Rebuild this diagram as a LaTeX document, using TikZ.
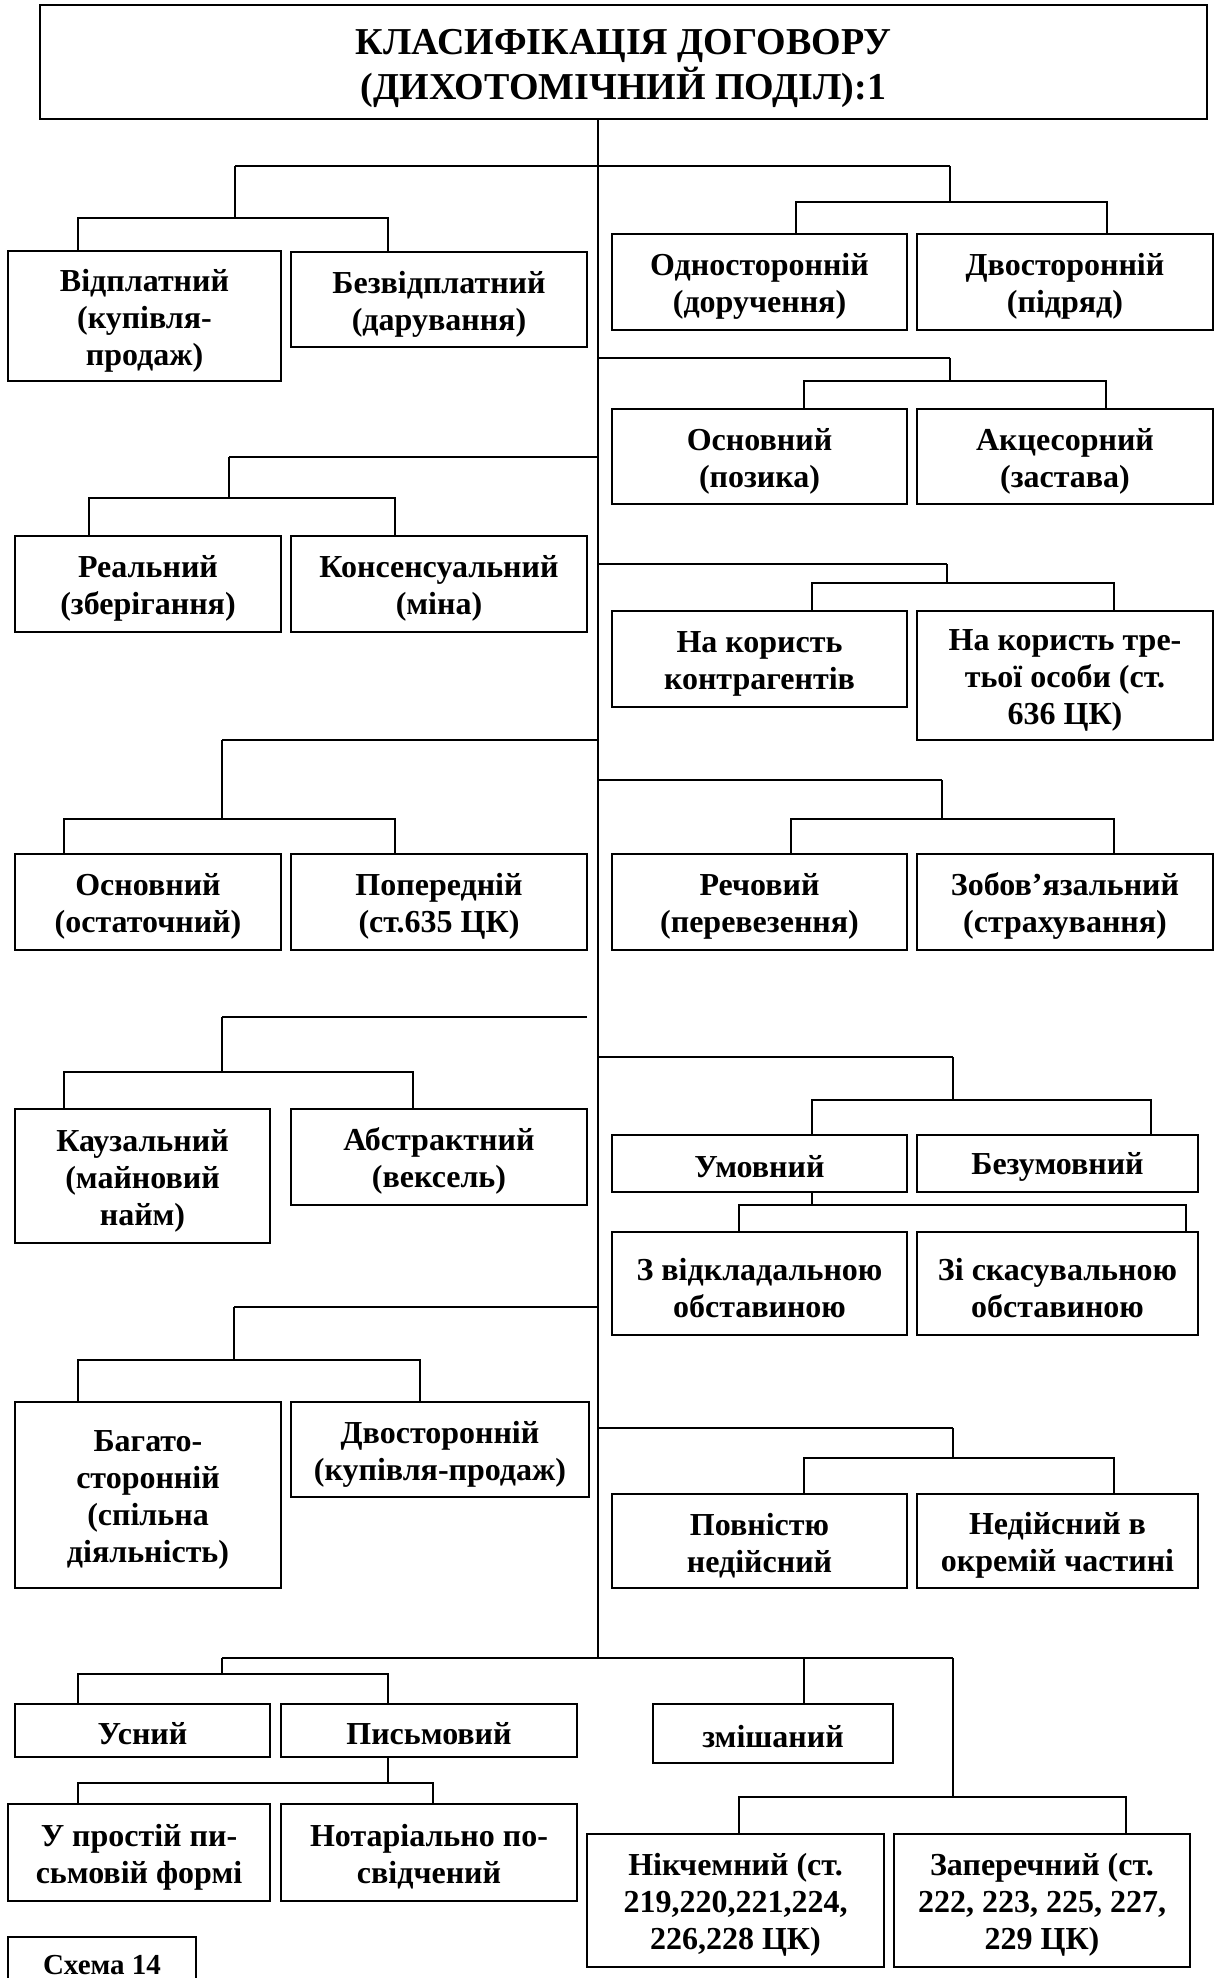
\documentclass[tikz,border=0pt]{standalone}
\usepackage{fontspec}
\setmainfont{Liberation Serif}
\usetikzlibrary{calc}
\tikzset{
  box/.style={draw, line width=1.4pt, inner sep=0pt, align=center,
    font=\fontsize{32}{37}\selectfont\bfseries},
  titlebox/.style={box, font=\fontsize{38}{45}\selectfont\bfseries},
  conn/.style={line width=1.3pt},
}
% multi-line box (first line padded so text sits a little lower, as in the original)
\newcommand\bx[7][box]{\node[#1,minimum width={(#5)-(#3)},minimum height={(#6)-(#4)}] (#2) at ({((#3)+(#5))/2},{((#4)+(#6))/2}) {\rule{0pt}{31pt}#7};}
% single-line box
\newcommand\bxone[6]{\node[box,minimum width={(#4)-(#2)},minimum height={(#5)-(#3)}] (#1) at ({((#2)+(#4))/2},{((#3)+(#5))/2}) {\rule{0pt}{28pt}#6};}
% fork: #1 parent coord, #2 bar y, #3 left x, #4 right x, #5 left node, #6 right node
\newcommand\fork[6]{%
  \coordinate (#1-l) at (#3,#2);
  \coordinate (#1-r) at (#4,#2);
  \draw[conn] (#1) -- (#1 |- #1-l);
  \draw[conn] (#1-l |- #5.north) -- (#1-l) -- (#1-r) -- (#1-r |- #6.north);}
\begin{document}
\begin{tikzpicture}[x=1pt,y=-1pt]
\useasboundingbox[fill=white] (0,0) rectangle (1215,1978);

% title
\node[titlebox,minimum width=1167,minimum height=114] (title) at (623.5,62) {\rule{0pt}{38pt}КЛАСИФІКАЦІЯ ДОГОВОРУ\\(ДИХОТОМІЧНИЙ ПОДІЛ):1};

% boxes
\bx{vidpl}{8}{251}{281}{381}{Відплатний\\(купівля-\\продаж)}
\bx{bezvid}{291}{252}{587}{347}{Безвідплатний\\(дарування)}
\bx{odnos}{612}{234}{907}{330}{Односторонній\\(доручення)}
\bx{dvos}{917}{234}{1213}{330}{Двосторонній\\(підряд)}

\bx{osn}{612}{409}{907}{504}{Основний\\(позика)}
\bx{akc}{917}{409}{1213}{504}{Акцесорний\\(застава)}
\bx{real}{15}{536}{281}{632}{Реальний\\(зберігання)}
\bx{kons}{291}{536}{587}{632}{Консенсуальний\\(міна)}

\bx{kontr}{612}{611}{907}{707}{На користь\\контрагентів}
\bx{tret}{917}{611}{1213}{740}{На користь тре-\\тьої особи (ст.\\636 ЦК)}
\bx{osnost}{15}{854}{281}{950}{Основний\\(остаточний)}
\bx{poper}{291}{854}{587}{950}{Попередній\\(ст.635 ЦК)}
\bx{rech}{612}{854}{907}{950}{Речовий\\(перевезення)}
\bx{zob}{917}{854}{1213}{950}{Зобов’язальний\\(страхування)}

\bx{kauz}{15}{1109}{270}{1243}{Каузальний\\(майновий\\найм)}
\bx{abstr}{291}{1109}{587}{1205}{Абстрактний\\(вексель)}
\bxone{umov}{612}{1135}{907}{1192}{Умовний}
\bxone{bezum}{917}{1135}{1198}{1192}{Безумовний}
\bx{vidkl}{612}{1232}{907}{1335}{З відкладальною\\обставиною}
\bx{skas}{917}{1232}{1198}{1335}{Зі скасувальною\\обставиною}

\bx{bagato}{15}{1402}{281}{1588}{Багато-\\сторонній\\(спільна\\діяльність)}
\bx{dvkp}{291}{1402}{589}{1497}{Двосторонній\\(купівля-продаж)}
\bx{povn}{612}{1494}{907}{1588}{Повністю\\недійсний}
\bx{nedch}{917}{1494}{1198}{1588}{Недійсний в\\окремій частині}

\bxone{usn}{15}{1704}{270}{1757}{Усний}
\bxone{pysm}{281}{1704}{577}{1757}{Письмовий}
\bxone{zmish}{653}{1704}{893}{1763}{змішаний}
\bx{prost}{8}{1804}{270}{1901}{У простій пи-\\сьмовій формі}
\bx{notar}{281}{1804}{577}{1901}{Нотаріально по-\\свідчений}
\bx{nikch}{587}{1834}{884}{1967}{Нікчемний (ст.\\219,220,221,224,\\226,228 ЦК)}
\bx{zaper}{894}{1834}{1190}{1967}{Заперечний (ст.\\222, 223, 225, 227,\\229 ЦК)}

% schema label (box cut by page edge)
\draw[line width=1.4pt] (8,1990) -- (8,1937) -- (196,1937) -- (196,1990);
\node[font=\fontsize{29}{34}\selectfont\bfseries, inner sep=0pt] (schema) at (102,1965) {Схема 14};

% trunk
\coordinate (tx) at (598,0);
\coordinate (tend) at (598,1658);
\draw[conn] (tx |- title.south) -- (tend);

% group 1
\coordinate (p1L) at (235,166);
\coordinate (p1R) at (950,166);
\draw[conn] (p1L) -- (p1R);
\fork{p1L}{218}{78}{388}{vidpl}{bezvid}
\fork{p1R}{202}{796}{1107}{odnos}{dvos}

% group 2
\coordinate (p2R) at (950,358);
\draw[conn] (p2R -| tx) -- (p2R);
\fork{p2R}{381}{804}{1106}{osn}{akc}
\coordinate (p2L) at (229,457);
\draw[conn] (p2L -| tx) -- (p2L);
\fork{p2L}{498}{89}{395}{real}{kons}

% group 3
\coordinate (p3R) at (947,564);
\draw[conn] (p3R -| tx) -- (p3R);
\fork{p3R}{583}{812}{1114}{kontr}{tret}
\coordinate (p3L) at (222,740);
\draw[conn] (p3L -| tx) -- (p3L);
\fork{p3L}{819}{64}{395}{osnost}{poper}

% group 4
\coordinate (p4R) at (942,780);
\draw[conn] (p4R -| tx) -- (p4R);
\fork{p4R}{819}{791}{1114}{rech}{zob}

% group 5
\coordinate (p5Lfree) at (587,1017);
\coordinate (p5L) at (222,1017);
\draw[conn] (p5Lfree) -- (p5L);
\fork{p5L}{1072}{64}{413}{kauz}{abstr}
\coordinate (p5R) at (953,1057);
\draw[conn] (p5R -| tx) -- (p5R);
\fork{p5R}{1100}{812}{1151}{umov}{bezum}
\coordinate (p5U) at (812,1192);
\fork{p5U}{1205}{739}{1186}{vidkl}{skas}

% group 6
\coordinate (p6L) at (234,1307);
\draw[conn] (p6L -| tx) -- (p6L);
\fork{p6L}{1360}{78}{420}{bagato}{dvkp}
\coordinate (p6R) at (953,1428);
\draw[conn] (p6R -| tx) -- (p6R);
\fork{p6R}{1458}{804}{1114}{povn}{nedch}

% group 7
\coordinate (p7L) at (222,1658);
\coordinate (p7R) at (953,1658);
\coordinate (p7M) at (804,1658);
\draw[conn] (p7L) -- (p7R);
\fork{p7L}{1674}{78}{388}{usn}{pysm}
\draw[conn] (p7M) -- (p7M |- zmish.north);
\coordinate (p7P) at (388,1757);
\fork{p7P}{1783}{78}{433}{prost}{notar}
\fork{p7R}{1797}{739}{1126}{nikch}{zaper}
\end{tikzpicture}
\end{document}
